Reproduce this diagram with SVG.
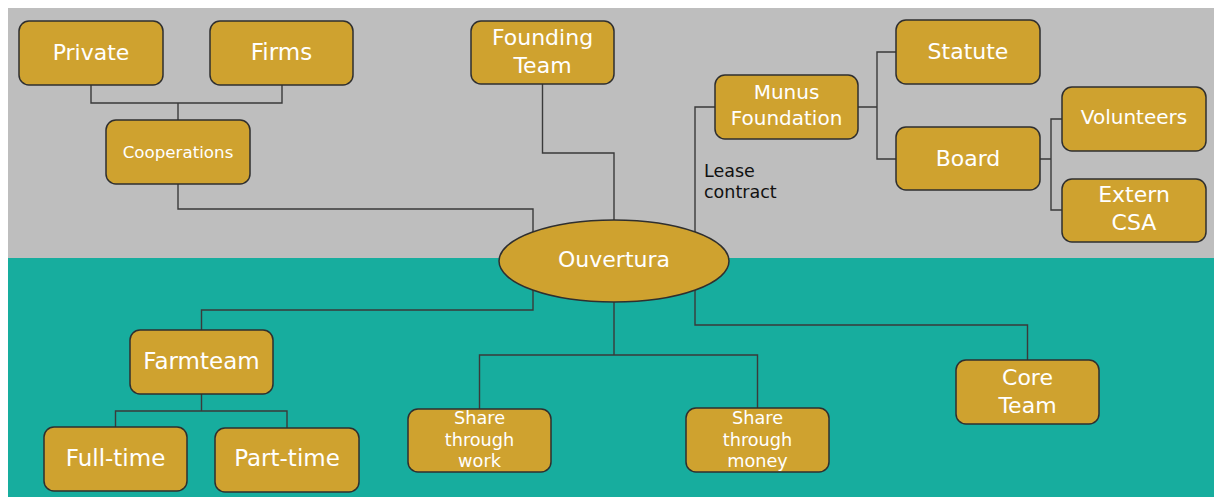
<svg xmlns="http://www.w3.org/2000/svg" width="1214" height="497" viewBox="0 0 1214 497">
<style>
.bg{stroke:none}
.box{fill:#cfa22f;stroke:#2f2f2f;stroke-width:1.5}
.t{font-family:"DejaVu Sans",Verdana,sans-serif;fill:#ffffff;text-anchor:middle;font-size:22px}
.b{font-size:23px}
.s{font-size:17.7px}
.co{font-size:16.7px}
.m{font-size:20px}
.v{font-size:20px}
.c{fill:none;stroke:#3a3a3a;stroke-width:1.4}
.lbl{font-family:"DejaVu Sans",Verdana,sans-serif;fill:#111;font-size:17.5px}
</style>
<rect width="1214" height="497" fill="#ffffff"/>
<rect class="bg" x="8" y="8" width="1206" height="250" fill="#bebebe"/>
<rect class="bg" x="8" y="258" width="1206" height="239" fill="#17ad9e"/>
<g id="connectors">
<path class="c" d="M91 85 V103 H282 V85 M178 103 V120"/>
<path class="c" d="M178 184 V209 H533 V232"/>
<path class="c" d="M542.5 84 V153 H614 V220"/>
<path class="c" d="M715 107 H695 V232"/>
<path class="c" d="M858 107 H877 M896 52 H877 V159 H896"/>
<path class="c" d="M1040 159 H1051 M1062 119 H1051 V210 H1062"/>
<path class="c" d="M533 290 V310 H201.5 V330"/>
<path class="c" d="M201.5 394 V411 M115.5 427 V411 H287 V428"/>
<path class="c" d="M614 302 V355 M479.5 409 V355 H757.5 V408"/>
<path class="c" d="M695 290 V325 H1027.5 V360"/>
<text class="lbl" x="704" y="177">Lease</text>
<text class="lbl" x="704" y="198">contract</text>
</g>
<g id="private"><rect class="box" x="19" y="21" width="144" height="64" rx="10"/><text class="t" x="91" y="60">Private</text></g>
<g id="firms"><rect class="box" x="210" y="21" width="143" height="64" rx="10"/><text class="t b" x="281.5" y="60">Firms</text></g>
<g id="cooperations"><rect class="box" x="106" y="120" width="144" height="64" rx="10"/><text class="t co" x="178" y="158">Cooperations</text></g>
<g id="founding"><rect class="box" x="471" y="21" width="143" height="63" rx="10"/><text class="t" x="542.5" y="45">Founding</text><text class="t" x="542.5" y="72.5">Team</text></g>
<g id="munus"><rect class="box" x="715" y="75" width="143" height="64" rx="10"/><text class="t m" x="786.5" y="99">Munus</text><text class="t m" x="786.5" y="125">Foundation</text></g>
<g id="statute"><rect class="box" x="896" y="20" width="144" height="64" rx="10"/><text class="t" x="968" y="59">Statute</text></g>
<g id="board"><rect class="box" x="896" y="127" width="144" height="63" rx="10"/><text class="t" x="968" y="166">Board</text></g>
<g id="volunteers"><rect class="box" x="1062" y="87" width="144" height="64" rx="10"/><text class="t v" x="1134" y="124">Volunteers</text></g>
<g id="extern"><rect class="box" x="1062" y="179" width="144" height="63" rx="10"/><text class="t" x="1134" y="202">Extern</text><text class="t" x="1134" y="230">CSA</text></g>
<g id="ouvertura"><ellipse class="box" cx="614" cy="261" rx="115" ry="41"/><text class="t" x="614" y="267">Ouvertura</text></g>
<g id="farmteam"><rect class="box" x="130" y="330" width="143" height="64" rx="10"/><text class="t b" x="201.5" y="369">Farmteam</text></g>
<g id="fulltime"><rect class="box" x="44" y="427" width="143" height="64" rx="10"/><text class="t b" x="115.5" y="466">Full-time</text></g>
<g id="parttime"><rect class="box" x="215" y="428" width="144" height="64" rx="10"/><text class="t b" x="287" y="466">Part-time</text></g>
<g id="sharework"><rect class="box" x="408" y="409" width="143" height="63" rx="10"/><text class="t s" x="479.5" y="424">Share</text><text class="t s" x="479.5" y="445.5">through</text><text class="t s" x="479.5" y="467">work</text></g>
<g id="sharemoney"><rect class="box" x="686" y="408" width="143" height="64" rx="10"/><text class="t s" x="757.5" y="424">Share</text><text class="t s" x="757.5" y="445.5">through</text><text class="t s" x="757.5" y="467">money</text></g>
<g id="coreteam"><rect class="box" x="956" y="360" width="143" height="64" rx="10"/><text class="t" x="1027.5" y="385">Core</text><text class="t" x="1027.5" y="413">Team</text></g>
</svg>
